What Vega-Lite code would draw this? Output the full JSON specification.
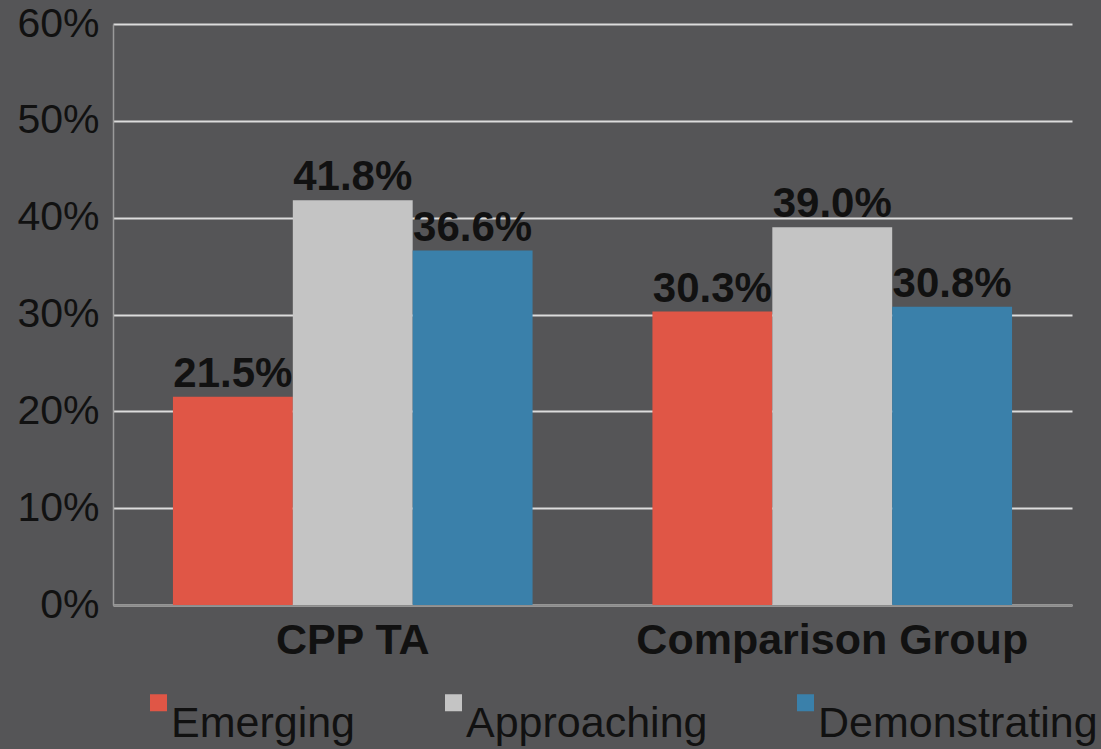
{
  "$schema": "https://vega.github.io/schema/vega-lite/v6.json",
  "width": 959,
  "height": 581,
  "autosize": {"type": "none"},
  "padding": {"left": 113, "top": 24, "right": 29, "bottom": 144},
  "background": "#555557",
  "config": {"view": {"stroke": null}, "font": "Liberation Sans"},
  "data": {
    "values": [
      {"group": "CPP TA", "level": "Emerging", "pct": 0.215},
      {"group": "CPP TA", "level": "Approaching", "pct": 0.418},
      {"group": "CPP TA", "level": "Demonstrating", "pct": 0.366},
      {"group": "Comparison Group", "level": "Emerging", "pct": 0.303},
      {"group": "Comparison Group", "level": "Approaching", "pct": 0.39},
      {"group": "Comparison Group", "level": "Demonstrating", "pct": 0.308}
    ]
  },
  "encoding": {
    "x": {
      "field": "group",
      "type": "nominal",
      "sort": ["CPP TA", "Comparison Group"],
      "scale": {"paddingInner": 0, "paddingOuter": 0},
      "axis": {
        "title": null,
        "labelAngle": 0,
        "labelFontSize": 43,
        "labelFontWeight": "bold",
        "labelColor": "#111111",
        "labelPadding": 14,
        "labelLimit": 0,
        "ticks": false,
        "domainColor": "#8c8c8c",
        "domainWidth": 1.5
      }
    },
    "xOffset": {
      "field": "level",
      "type": "nominal",
      "sort": ["Emerging", "Approaching", "Demonstrating"],
      "scale": {"paddingInner": 0, "paddingOuter": 0.5}
    },
    "y": {
      "field": "pct",
      "type": "quantitative",
      "scale": {"domain": [0, 0.6], "nice": false},
      "axis": {
        "title": null,
        "values": [0, 0.1, 0.2, 0.3, 0.4, 0.5, 0.6],
        "format": ".0%",
        "labelFontSize": 41,
        "labelColor": "#111111",
        "labelPadding": 14,
        "ticks": false,
        "domainColor": "#9a9a9a",
        "domainWidth": 1.5,
        "gridColor": "#dcdcdc",
        "gridWidth": 2
      }
    }
  },
  "layer": [
    {
      "mark": {"type": "bar"},
      "encoding": {
        "color": {
          "field": "level",
          "type": "nominal",
          "scale": {
            "domain": ["Emerging", "Approaching", "Demonstrating"],
            "range": ["#e05646", "#c4c4c4", "#3a80aa"]
          },
          "legend": {
            "orient": "none",
            "legendX": 24,
            "legendY": 657,
            "padding": 0,
            "direction": "horizontal",
            "title": null,
            "symbolType": "square",
            "symbolSize": 289,
            "symbolStrokeWidth": 0,
            "labelFontSize": 43,
            "labelColor": "#111111",
            "labelBaseline": "top",
            "labelOffset": -9,
            "columnPadding": 76,
            "labelLimit": 400
          }
        }
      }
    },
    {
      "mark": {
        "type": "text",
        "baseline": "alphabetic",
        "dy": -10,
        "fontSize": 42,
        "fontWeight": "bold",
        "color": "#111111"
      },
      "encoding": {
        "text": {"field": "pct", "type": "quantitative", "format": ".1%"}
      }
    }
  ]
}
